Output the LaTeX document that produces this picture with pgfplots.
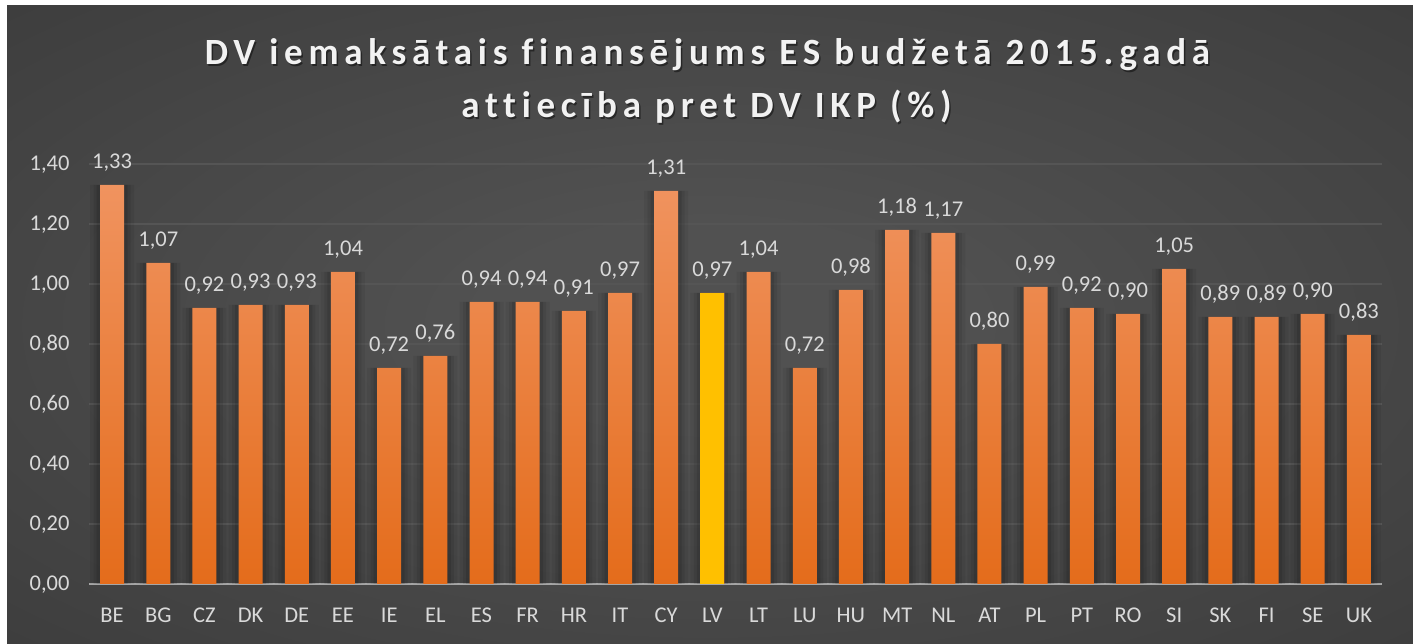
\documentclass[border=0pt]{standalone}
\usepackage{fontspec}
\setmainfont{Carlito}
\newfontfamily\titlefont[LetterSpace=15.5,Ligatures={NoCommon}]{Carlito}
\usepackage{pgfplots}
\usepackage{pgfplotstable}
\pgfplotsset{compat=1.18}
\usetikzlibrary{shadings}
\definecolor{bgin}{HTML}{515151}
\definecolor{bgout}{HTML}{252525}
\definecolor{bartop}{HTML}{F0935F}
\definecolor{barmid}{HTML}{F4802E}
\definecolor{barbot}{HTML}{E46C1B}
\definecolor{lvbar}{HTML}{FFC000}
\definecolor{lbl}{HTML}{D9D9D9}
\definecolor{gridc}{HTML}{555555}
\definecolor{axc}{HTML}{A6A6A6}
\pgfdeclareradialshading{bgshade}{\pgfpoint{0bp}{0bp}}{color(0bp)=(bgin); color(8bp)=(bgin); color(71bp)=(bgout)}
\pgfplotstableread{
x y
0 1.33
1 1.07
2 0.92
3 0.93
4 0.93
5 1.04
6 0.72
7 0.76
8 0.94
9 0.94
10 0.91
11 0.97
12 1.31
13 0.97
14 1.04
15 0.72
16 0.98
17 1.18
18 1.17
19 0.80
20 0.99
21 0.92
22 0.90
23 1.05
24 0.89
25 0.89
26 0.90
27 0.83
}\datatab
\pgfplotstableread{
x y
13 0.97
}\lvtab
\begin{document}
\begin{tikzpicture}[x=1pt,y=1pt]
\useasboundingbox (0,0) rectangle (1413,644);
\fill[white] (0,0) rectangle (1413,644);
\shade[shading=bgshade] (7,0) rectangle (1413,638);
% title shadow
\node[anchor=base, text=black, opacity=0.45, font=\titlefont\bfseries\fontsize{37}{43}\selectfont] at (709,577.5) {DV iemaksātais finansējums ES budžetā 2015.gadā};
\node[anchor=base, text=black, opacity=0.45, font=\titlefont\bfseries\fontsize{37}{43}\selectfont] at (708,524.5) {attiecība pret DV IKP (\%)};
\node[anchor=base, text=white!95!black, font=\titlefont\bfseries\fontsize{37}{43}\selectfont] at (707.5,579) {DV iemaksātais finansējums ES budžetā 2015.gadā};
\node[anchor=base, text=white!95!black, font=\titlefont\bfseries\fontsize{37}{43}\selectfont] at (706.5,526) {attiecība pret DV IKP (\%)};
\begin{axis}[
  at={(89pt,60pt)}, anchor=south west,
  scale only axis, width=1293pt, height=420pt,
  xmin=-0.5, xmax=27.5, ymin=0, ymax=1.4,
  ybar,
  xtick={0,...,27},
  xticklabels={BE,BG,CZ,DK,DE,EE,IE,EL,ES,FR,HR,IT,CY,LV,LT,LU,HU,MT,NL,AT,PL,PT,RO,SI,SK,FI,SE,UK},
  ytick={0,0.2,0.4,0.6,0.8,1.0,1.2,1.4},
  major tick length=0pt,
  ymajorgrids, grid style={draw=gridc, line width=1.3pt},
  axis x line*=bottom, axis y line*=left,
  x axis line style={draw=axc, line width=2pt, -},
  y axis line style={draw=none},
  /pgf/number format/assume math mode=true,
  yticklabel style={/pgf/number format/.cd, fixed, fixed zerofill, precision=2, use comma, /tikz/.cd,
     font=\fontsize{22.5}{27}\selectfont, text=lbl, anchor=east, text height=14pt, text depth=0pt, xshift=-16pt},
  xticklabel style={font=\fontsize{22.5}{27}\selectfont, text=lbl, anchor=base, yshift=-39pt},
  nodes near coords style={/pgf/number format/.cd, fixed, fixed zerofill, precision=2, use comma, /tikz/.cd,
     font=\fontsize{22.5}{27}\selectfont, text=lbl, anchor=base, yshift=16pt},
  clip=false,
]
% soft shadows
\addplot[bar shift=0pt, bar width=44pt, draw=none, fill=black, fill opacity=0.06] table[x=x,y=y] {\datatab};
\addplot[bar shift=0pt, bar width=37pt, draw=none, fill=black, fill opacity=0.08] table[x=x,y=y] {\datatab};
\addplot[bar shift=0pt, bar width=31pt, draw=none, fill=black, fill opacity=0.10] table[x=x,y=y] {\datatab};
% bars
\addplot[bar shift=0pt, bar width=24pt, draw=none, top color=bartop, middle color=barmid, bottom color=barbot, nodes near coords] table[x=x,y=y] {\datatab};
\addplot[bar shift=0pt, bar width=24pt, draw=none, fill=lvbar] table[x=x,y=y] {\lvtab};
\end{axis}
\end{tikzpicture}
\end{document}
